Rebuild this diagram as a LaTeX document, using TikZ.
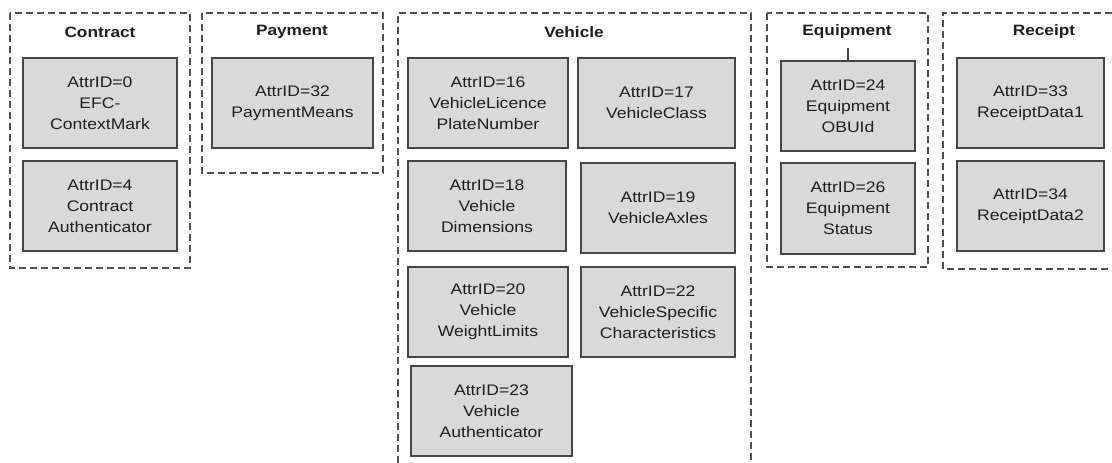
\documentclass[tikz,border=0pt]{standalone}
\usepackage{fontspec}
\setmainfont{Liberation Sans}[FakeStretch=1.15]
\begin{document}
\begin{tikzpicture}[x=1pt,y=-1pt,
  attrbox/.style={draw=boxborder, fill=boxfill, line width=1.3pt, inner sep=0pt,
    align=center, text=txt, font=\fontsize{15.3}{21}\selectfont},
  frametitle/.style={font=\fontsize{15}{18}\selectfont\bfseries, text=txt, inner sep=1pt},
  groupframe/.style={draw=framec, line width=1.2pt, dash pattern=on 7pt off 4pt},
  link/.style={draw=boxborder, line width=1.2pt}]
\definecolor{boxfill}{RGB}{217,217,217}
\definecolor{boxborder}{RGB}{70,70,70}
\definecolor{txt}{RGB}{30,30,30}
\definecolor{framec}{RGB}{80,80,80}
\useasboundingbox (0,0) rectangle (1112,463);
\fill[white] (0,0) rectangle (1112,463);

% group frames
\draw[groupframe] (10,13) rectangle (190,268);
\draw[groupframe] (202,13) rectangle (383,173);
\draw[groupframe] (398,463) -- (398,13) -- (751,13) -- (751,463);
\draw[groupframe] (767,13) rectangle (928,267);
\draw[groupframe] (1112,13) -- (943,13) -- (943,269) -- (1112,269);

% titles
\node[frametitle] (tcontract) at (100,32) {Contract};
\node[frametitle] (tpayment) at (292,32) {Payment};
\node[frametitle] (tvehicle) at (574,32) {Vehicle};
\node[frametitle] (tequip) at (847,32) {Equipment};
\node[frametitle] (treceipt) at (1044,32) {Receipt};

% Contract
\node[attrbox, minimum width=154pt, minimum height=90pt] (b0) at (100,103) {AttrID=0\\EFC-\\ContextMark};
\node[attrbox, minimum width=154pt, minimum height=90pt] (b4) at (100,206) {AttrID=4\\Contract\\Authenticator};

% Payment
\node[attrbox, minimum width=161pt, minimum height=90pt] (b32) at (292.5,103) {AttrID=32\\PaymentMeans};

% Vehicle
\node[attrbox, minimum width=160pt, minimum height=90pt] (b16) at (488,103) {AttrID=16\\VehicleLicence\\PlateNumber};
\node[attrbox, minimum width=157pt, minimum height=90pt] (b17) at (656.5,103) {AttrID=17\\VehicleClass};
\node[attrbox, minimum width=158pt, minimum height=90pt] (b18) at (487,206) {AttrID=18\\Vehicle\\Dimensions};
\node[attrbox, minimum width=154pt, minimum height=90pt] (b19) at (658,208) {AttrID=19\\VehicleAxles};
\node[attrbox, minimum width=160pt, minimum height=90pt] (b20) at (488,312) {AttrID=20\\Vehicle\\WeightLimits};
\node[attrbox, minimum width=154pt, minimum height=90pt] (b22) at (658,312) {AttrID=22\\VehicleSpecific\\Characteristics};
\node[attrbox, minimum width=161pt, minimum height=90pt] (b23) at (491.5,411) {AttrID=23\\Vehicle\\Authenticator};

% Equipment
\node[attrbox, minimum width=134pt, minimum height=90pt] (b24) at (848,106) {AttrID=24\\Equipment\\OBUId};
\node[attrbox, minimum width=134pt, minimum height=91pt] (b26) at (848,208.5) {AttrID=26\\Equipment\\Status};

% Receipt
\node[attrbox, minimum width=147pt, minimum height=90pt] (b33) at (1030.5,103) {AttrID=33\\ReceiptData1};
\node[attrbox, minimum width=147pt, minimum height=90pt] (b34) at (1030.5,206) {AttrID=34\\ReceiptData2};

% connector
\coordinate (eqlinetop) at ([yshift=-8pt]tequip.south -| b24.north);
\draw[link] (eqlinetop) -- (b24.north);
\end{tikzpicture}
\end{document}
